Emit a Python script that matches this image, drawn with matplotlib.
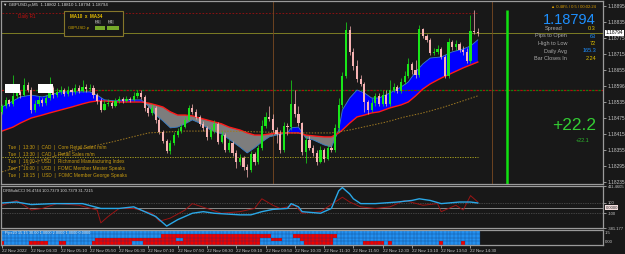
import numpy as np
import matplotlib.pyplot as plt
import matplotlib.transforms as mtransforms
from matplotlib.colors import ListedColormap
from matplotlib.patches import Rectangle

plt.rcParams['font.family'] = ['Liberation Sans', 'DejaVu Sans']

# --- Price data (M5 bars, 03:50 .. 14:40) ---
first_open = 1.18498
closes = [
    1.18520, 1.18543, 1.18528, 1.18558, 1.18573, 1.18561, 1.18599, 1.18580, 1.18505, 1.18528,
    1.18543, 1.18531, 1.18550, 1.18588, 1.18561, 1.18573, 1.18580, 1.18565, 1.18580, 1.18573,
    1.18588, 1.18576, 1.18591, 1.18584, 1.18588, 1.18561, 1.18539, 1.18505, 1.18528, 1.18531,
    1.18520, 1.18539, 1.18546, 1.18539, 1.18546, 1.18543, 1.18558, 1.18569, 1.18554, 1.18513,
    1.18494, 1.18513, 1.18468, 1.18423, 1.18389, 1.18351, 1.18381, 1.18411, 1.18426, 1.18441,
    1.18468, 1.18513, 1.18498, 1.18479, 1.18453, 1.18438, 1.18404, 1.18430, 1.18453, 1.18385,
    1.18411, 1.18355, 1.18381, 1.18344, 1.18310, 1.18325, 1.18291, 1.18280, 1.18340, 1.18310,
    1.18363, 1.18445, 1.18479, 1.18471, 1.18430, 1.18415, 1.18355, 1.18445, 1.18441, 1.18528,
    1.18490, 1.18456, 1.18348, 1.18393, 1.18363, 1.18344, 1.18310, 1.18355, 1.18321, 1.18363,
    1.18355, 1.18438, 1.18524, 1.18633, 1.18805, 1.18723, 1.18670, 1.18621, 1.18603, 1.18535,
    1.18505, 1.18531, 1.18558, 1.18528, 1.18561, 1.18528, 1.18580, 1.18591, 1.18576, 1.18610,
    1.18633, 1.18678, 1.18655, 1.18636, 1.18809, 1.18783, 1.18768, 1.18719, 1.18723, 1.18734,
    1.18704, 1.18633, 1.18760, 1.18741, 1.18753, 1.18730, 1.18723, 1.18689, 1.18801, 1.18798,
    1.18794]
highs = [
    1.18528, 1.18554, 1.18546, 1.18636, 1.18588, 1.18580, 1.18625, 1.18610, 1.18591, 1.18543,
    1.18558, 1.18550, 1.18561, 1.18629, 1.18595, 1.18588, 1.18595, 1.18588, 1.18595, 1.18588,
    1.18603, 1.18599, 1.18618, 1.18603, 1.18603, 1.18599, 1.18569, 1.18550, 1.18543, 1.18546,
    1.18539, 1.18550, 1.18558, 1.18554, 1.18558, 1.18554, 1.18573, 1.18580, 1.18580, 1.18561,
    1.18520, 1.18528, 1.18520, 1.18475, 1.18430, 1.18396, 1.18393, 1.18423, 1.18438, 1.18453,
    1.18479, 1.18524, 1.18528, 1.18509, 1.18486, 1.18464, 1.18445, 1.18441, 1.18468, 1.18460,
    1.18426, 1.18419, 1.18396, 1.18389, 1.18355, 1.18340, 1.18333, 1.18303, 1.18351, 1.18348,
    1.18374, 1.18468, 1.18498, 1.18520, 1.18490, 1.18441, 1.18430, 1.18460, 1.18456, 1.18618,
    1.18580, 1.18520, 1.18460, 1.18404, 1.18408, 1.18374, 1.18355, 1.18370, 1.18363, 1.18374,
    1.18370, 1.18453, 1.18550, 1.18648, 1.18835, 1.18820, 1.18738, 1.18693, 1.18636, 1.18610,
    1.18543, 1.18550, 1.18569, 1.18569, 1.18580, 1.18580, 1.18618, 1.18606, 1.18599, 1.18625,
    1.18651, 1.18700, 1.18685, 1.18693, 1.18824, 1.18813, 1.18790, 1.18775, 1.18738, 1.18749,
    1.18741, 1.18711, 1.18775, 1.18768, 1.18768, 1.18760, 1.18745, 1.18738, 1.18861, 1.18880,
    1.18813]
lows = [
    1.18490, 1.18513, 1.18520, 1.18520, 1.18550, 1.18550, 1.18558, 1.18573, 1.18494, 1.18498,
    1.18520, 1.18520, 1.18524, 1.18543, 1.18550, 1.18554, 1.18565, 1.18558, 1.18558, 1.18561,
    1.18565, 1.18569, 1.18573, 1.18573, 1.18576, 1.18550, 1.18528, 1.18498, 1.18505, 1.18520,
    1.18513, 1.18516, 1.18531, 1.18531, 1.18535, 1.18535, 1.18539, 1.18550, 1.18546, 1.18501,
    1.18483, 1.18486, 1.18456, 1.18415, 1.18381, 1.18344, 1.18340, 1.18374, 1.18404, 1.18419,
    1.18438, 1.18464, 1.18490, 1.18471, 1.18445, 1.18426, 1.18393, 1.18396, 1.18419, 1.18378,
    1.18381, 1.18348, 1.18348, 1.18333, 1.18288, 1.18299, 1.18280, 1.18254, 1.18273, 1.18299,
    1.18303, 1.18355, 1.18438, 1.18464, 1.18423, 1.18381, 1.18344, 1.18348, 1.18411, 1.18430,
    1.18479, 1.18445, 1.18336, 1.18306, 1.18355, 1.18333, 1.18299, 1.18306, 1.18310, 1.18318,
    1.18348, 1.18348, 1.18423, 1.18513, 1.18625, 1.18711, 1.18655, 1.18610, 1.18595, 1.18498,
    1.18490, 1.18498, 1.18520, 1.18520, 1.18520, 1.18520, 1.18520, 1.18573, 1.18569, 1.18569,
    1.18603, 1.18625, 1.18640, 1.18625, 1.18629, 1.18775, 1.18760, 1.18711, 1.18711, 1.18715,
    1.18696, 1.18625, 1.18625, 1.18730, 1.18730, 1.18723, 1.18711, 1.18681, 1.18681, 1.18790,
    1.18783]

# moving averages (MA10 / MA34 band and the long one), read at these bars
ma_idx = [0, 3, 5, 8, 11, 13, 16, 19, 22, 24, 26, 28, 31, 33, 35, 38, 40, 42, 44, 46,
          48, 50, 52, 54, 57, 60, 62, 65, 67, 69, 71, 73, 75, 78, 79, 81, 83, 85, 88, 90,
          92, 93, 95, 97, 99, 101, 103, 106, 109, 111, 113, 115, 117, 120, 123, 126, 128, 130]
ma_fast = [1.18516, 1.18539, 1.18554, 1.18561, 1.18554, 1.18561, 1.18573, 1.18573, 1.18573, 1.18573,
           1.18561, 1.18543, 1.18539, 1.18543, 1.18543, 1.18543, 1.18520, 1.18486, 1.18464, 1.18438,
           1.18441, 1.18453, 1.18468, 1.18456, 1.18430, 1.18415, 1.18396, 1.18366, 1.18344, 1.18363,
           1.18385, 1.18404, 1.18411, 1.18419, 1.18438, 1.18441, 1.18400, 1.18393, 1.18374, 1.18366,
           1.18430, 1.18505, 1.18550, 1.18580, 1.18569, 1.18550, 1.18550, 1.18569, 1.18591, 1.18610,
           1.18648, 1.18678, 1.18700, 1.18704, 1.18723, 1.18734, 1.18745, 1.18768]
ma_slow = [1.18426, 1.18441, 1.18456, 1.18475, 1.18486, 1.18494, 1.18505, 1.18516, 1.18528, 1.18535,
           1.18539, 1.18539, 1.18535, 1.18535, 1.18535, 1.18535, 1.18531, 1.18524, 1.18516, 1.18498,
           1.18486, 1.18486, 1.18483, 1.18475, 1.18464, 1.18453, 1.18441, 1.18430, 1.18419, 1.18411,
           1.18411, 1.18415, 1.18419, 1.18419, 1.18419, 1.18419, 1.18411, 1.18408, 1.18404, 1.18404,
           1.18419, 1.18430, 1.18456, 1.18479, 1.18486, 1.18494, 1.18498, 1.18513, 1.18524, 1.18535,
           1.18558, 1.18584, 1.18603, 1.18625, 1.18644, 1.18663, 1.18674, 1.18685]
ema_idx = [0, 10, 20, 30, 40, 50, 60, 70, 80, 90, 95, 100, 105, 110, 115, 120, 125, 130]
ema_long = [1.18273, 1.18314, 1.18355, 1.18385, 1.18419, 1.18426, 1.18426, 1.18423, 1.18419,
            1.18419, 1.18430, 1.18445, 1.18460, 1.18479, 1.18494, 1.18513, 1.18535, 1.18558]

daily_r1 = 1.18869
bid = 1.18794
pivot = 1.18580
daily_s = 1.18329
session_bars = [74, 134]
signal_bar = 138

price_ticks = [1.18895, 1.18835, 1.18775, 1.18715, 1.18655, 1.18596,
               1.18535, 1.18475, 1.18415, 1.18355, 1.18295, 1.18235]

# --- CCI panel ---
cci_blue_idx = [0, 4, 8, 14, 22, 27, 32, 36, 40, 42, 45, 48, 52, 55, 58, 65, 68, 71, 74, 78,
                79, 81, 82, 87, 90, 92, 93, 95, 96, 98, 102, 108, 112, 114, 117, 120, 125, 128, 130]
cci_blue = [91, 109, 61, 79, 79, -12, -12, 18, -103, -164, -345, -224, -103, -73, -103, -133, -133,
            -73, -30, -12, 79, 18, -73, -103, -12, 321, 382, 261, 170, 79, 79, 109, 139, 170,
            139, 79, 109, 109, 91]
cci_red_idx = [0, 4, 8, 11, 15, 21, 26, 27, 29, 32, 36, 41, 43, 46, 50, 52, 56, 60, 65, 69,
               71, 74, 76, 80, 82, 87, 91, 93, 95, 98, 102, 106, 110, 115, 119, 120, 124, 126, 128, 130]
cci_red = [48, 139, -42, -12, 79, 48, -42, -285, -164, -12, -12, -103, -255, -194, -42, 79, -12,
           -103, -73, -12, 170, 48, -12, 48, -103, -73, 109, 200, 109, 18, -12, 18, 139, 48, 79,
           -73, 48, -42, 230, 109]

# --- signal matrix (red bars per row) ---
red_spans = [
    [],
    [(44, 73), (80, 91)],
    [(26, 47), (50, 70), (74, 76), (82, 90)],
    [(0, 0), (8, 12), (16, 17), (25, 35), (39, 70), (83, 90), (99, 104), (106, 106),
     (120, 120), (126, 126)],
]

time_ticks = list(range(0, 129, 8))
time_labels = ["22 Nov 2022"] + ["22 Nov " + t for t in
               ["04:30", "05:10", "05:50", "06:30", "07:10", "07:50", "08:30", "09:10",
                "09:50", "10:30", "11:10", "11:50", "12:30", "13:10", "13:50", "14:30"]]

events = ["Tue  |  13:30  |  CAD  |  Core Retail Sales m/m",
          "Tue  |  13:30  |  CAD  |  Retail Sales m/m",
          "Tue  |  16:00  |  USD  |  Richmond Manufacturing Index",
          "Tue  |  16:00  |  USD  |  FOMC Member Mester Speaks",
          "Tue  |  19:15  |  USD  |  FOMC Member George Speaks"]

BG = '#181818'
FRAME = '#9a9a9a'
LBL = '#c8c8c8'
W, H = 625, 254


def fx(px):
    return px / W


def fy(py):
    return 1 - py / H


fig = plt.figure(figsize=(6.25, 2.54), dpi=100, facecolor=BG)
ax = fig.add_axes([fx(1), fy(184), 602 / W, 183 / H], facecolor=BG)
axc = fig.add_axes([fx(1), fy(228), 602 / W, 42 / H], facecolor=BG)
axg = fig.add_axes([fx(1), fy(245), 602 / W, 15 / H], facecolor=BG)

XL = (-0.27, 164.2)
for a in (ax, axc, axg):
    a.set_xlim(*XL)
    for s in a.spines.values():
        s.set_color(FRAME)
        s.set_linewidth(0.9)
    a.yaxis.tick_right()
    a.tick_params(axis='y', colors=LBL, labelsize=3.4, length=2, width=0.5, pad=1.2)

# --- main price panel ---
closes = np.array(closes)
opens = np.r_[first_open, closes[:-1]]
idx = np.arange(len(closes))
up = closes >= opens
ccol = np.where(up, '#19e619', '#f7b3b3')

ma_fast = np.array(ma_fast)
ma_slow = np.array(ma_slow)
ax.fill_between(ma_idx, ma_fast, ma_slow, where=ma_fast >= ma_slow, interpolate=True,
                color='#0000ff', lw=0, zorder=1)
ax.fill_between(ma_idx, ma_fast, ma_slow, where=ma_fast < ma_slow, interpolate=True,
                color='#7d7d7d', lw=0, zorder=1)
ax.plot(ma_idx, ma_fast, color='#3a80c8', lw=0.6, zorder=2)
ax.plot(ma_idx, ma_slow, color='#ff1a1a', lw=1.0, zorder=2)
ax.plot(ema_idx, ema_long, color='#a07a22', lw=0.7, ls=(0, (1.5, 1.5)), zorder=2)

ax.hlines(daily_r1, 0, len(closes) - 1, color='#a01010', lw=0.6, ls=(0, (2, 2)), zorder=1)
ax.hlines(daily_s, 0, len(closes) - 1, color='#b8b020', lw=0.6, ls=(0, (1.5, 1.5)), zorder=1)
ax.axhline(bid, color='#7d7d24', lw=0.7, zorder=1)
ax.axhline(pivot, color='#b01010', lw=0.9, ls=(0, (2, 3)), zorder=1)
ax.axhline(pivot, color='#118011', lw=0.9, ls=(2.5, (2, 3)), zorder=1)
for b in session_bars:
    ax.axvline(b, color='#7a4a22', lw=0.6, zorder=1)
y_lo, y_hi = 1.182275, 1.189138
ax.vlines(signal_bar, y_lo, 1.18880, color='#11e011', lw=1.8, zorder=2)

ax.vlines(idx, lows, highs, colors=ccol, lw=0.5, zorder=3)
ax.bar(idx, np.maximum(np.abs(closes - opens), 0.00002), bottom=np.minimum(opens, closes),
       width=0.6, color=ccol, lw=0, zorder=4)

ax.set_ylim(y_lo, y_hi)
ax.set_xticks([])
ax.set_yticks(price_ticks)
ax.set_yticklabels([f"{p:.5f}" for p in price_ticks])
blend = mtransforms.blended_transform_factory(ax.transAxes, ax.transData)
ax.text(1.004, bid, f"{bid:.5f}", transform=blend, fontsize=3.4, color='black', va='center',
        ha='left', bbox=dict(fc='white', ec='none', pad=0.5), zorder=6)

# --- CCI panel ---
axc.axhline(0, color='#8a8a8a', lw=0.7)
axc.axhline(100, color='#6e6e6e', lw=0.5, ls=(0, (1, 1.5)))
axc.axhline(-100, color='#6e6e6e', lw=0.5, ls=(0, (1, 1.5)))
axc.plot(cci_red_idx, cci_red, color='#9a1414', lw=0.7)
axc.plot(cci_blue_idx, cci_blue, color='#2aa8e8', lw=1.0)
axc.set_ylim(-381.177, 411.4605)
axc.set_xticks([])
axc.set_yticks([411.4605, 100, -100, -381.177])
axc.set_yticklabels(['411.4605', '100', '-100', '-381.177'])
axc.tick_params(axis='y', labelsize=3.0)
for lbl in axc.get_yticklabels():
    lbl.set_clip_on(False)
blc = mtransforms.blended_transform_factory(axc.transAxes, axc.transData)
axc.text(1.004, 0, "0.0000", transform=blc, fontsize=3.0, color='#202020', va='center',
         ha='left', bbox=dict(fc='#f3dede', ec='none', pad=0.4))
axc.text(0.004, 0.94, "DRMultiCCI 96.4744 100.7379 100.7379 31.7215", transform=axc.transAxes,
         fontsize=3.0, color='#d8d8d8', va='top')

# --- signal matrix ---
n_rows = len(red_spans)
grid = np.zeros((n_rows, len(closes)))
for r, spans in enumerate(red_spans):
    for a0, a1 in spans:
        grid[r, a0:a1 + 1] = 1
xe = np.arange(len(closes) + 1) - 0.5
axg.pcolormesh(xe, np.arange(n_rows + 1), grid, cmap=ListedColormap(['#2390f0', '#f00000']),
               vmin=0, vmax=1, antialiased=False)
axg.vlines(xe, 0, n_rows, color='#0e3c7a', lw=0.25)
axg.hlines(np.arange(n_rows + 1), xe[0], xe[-1], color='#0e3c7a', lw=0.25)
axg.set_ylim(n_rows, 0)
axg.set_yticks([])
axg.set_xticks(time_ticks)
axg.set_xticklabels(time_labels, ha='left')
axg.tick_params(axis='x', colors=LBL, labelsize=3.2, length=2, width=0.5, pad=0.8)
axg.text(0.006, 0.82, "Pips20 15.15 30.00 1.0000 2.0000 1.0000 0.0000", transform=axg.transAxes,
         fontsize=2.8, color='#e8e8e8', va='center')
fig.text(fx(605), fy(233), "1.5", fontsize=3.1, color=LBL, va='center')
fig.text(fx(605), fy(242), "0.00", fontsize=3.1, color=LBL, va='center')

# --- overlay texts ---
fig.text(fx(3), fy(5), "\u25bc GBPUSD.p,M5  1.18802 1.18810 1.18794 1.18794",
         fontsize=3.2, color='#d8d8d8', va='center')
fig.text(fx(18), fy(16.5), "Daily R1", fontsize=3.3, color='#c01010', va='center')

fig.patches.append(Rectangle((fx(64), fy(36)), 59 / W, 25 / H, transform=fig.transFigure,
                             fc='#161616', ec='#85762a', lw=0.8, zorder=5))
fig.text(fx(70), fy(16), "MA10  x  MA34", fontsize=3.3, color='#e8c000', weight='bold',
         va='center', zorder=6)
for px, t in [(95, "H1"), (108, "H4")]:
    fig.text(fx(px), fy(22), t, fontsize=2.8, color='#cfcfcf', va='center', zorder=6,
             bbox=dict(fc='#3c3c3c', ec='none', pad=0.3))
fig.text(fx(68), fy(28), "GBPUSD.p", fontsize=3.2, color='#c8a000', va='center', zorder=6)
for px0, px1 in [(95, 105), (107, 119)]:
    fig.patches.append(Rectangle((fx(px0), fy(30)), (px1 - px0) / W, 4 / H,
                                 transform=fig.transFigure, fc='#76a82a', ec='none', zorder=6))
for px0, px1 in [(5, 20), (38, 53)]:
    fig.patches.append(Rectangle((fx(px0), fy(93)), (px1 - px0) / W, 9 / H,
                                 transform=fig.transFigure, fc='white', ec='none', zorder=6))

fig.text(fx(596), fy(7), "\u25b2 0.48% / 0.5 / 00:02:24", fontsize=3.0, color='#e0a000',
         ha='right', va='center')
fig.text(fx(596), fy(19.5), f"{bid:.5f}", fontsize=10.5, color='#1e90ff', ha='right', va='center')
fig.text(fx(563), fy(28.5), "Spread", fontsize=4.0, color='#a8a8a8', ha='right', va='center')
fig.text(fx(596), fy(28.5), "0.3", fontsize=4.0, color='#e0c000', ha='right', va='center')
info = [("Pips to Open", "63", '#1e90ff'), ("High to Low", "72", '#e0c000'),
        ("Daily Avg", "165.3", '#1e90ff'), ("Bar Closes In", "2:24", '#e0c000')]
for k, (lab, val, col) in enumerate(info):
    yy = 36 + 7.5 * k
    fig.text(fx(567), fy(yy), lab, fontsize=4.0, color='#a8a8a8', ha='right', va='center')
    fig.text(fx(596), fy(yy), val, fontsize=4.0, color=col, ha='right', va='center')

fig.text(fx(596), fy(126), "+22.2", fontsize=12.5, color='#33cc33', ha='right', va='center')
fig.text(fx(590), fy(140), "+22.1", fontsize=4.0, color='#2db52d', ha='right', va='center')

for k, ev in enumerate(events):
    fig.text(fx(8), fy(147.5 + 6.9 * k), ev, fontsize=3.4, color='#c89b10', va='center')

fig.savefig("out.png", dpi=100, facecolor=BG)
